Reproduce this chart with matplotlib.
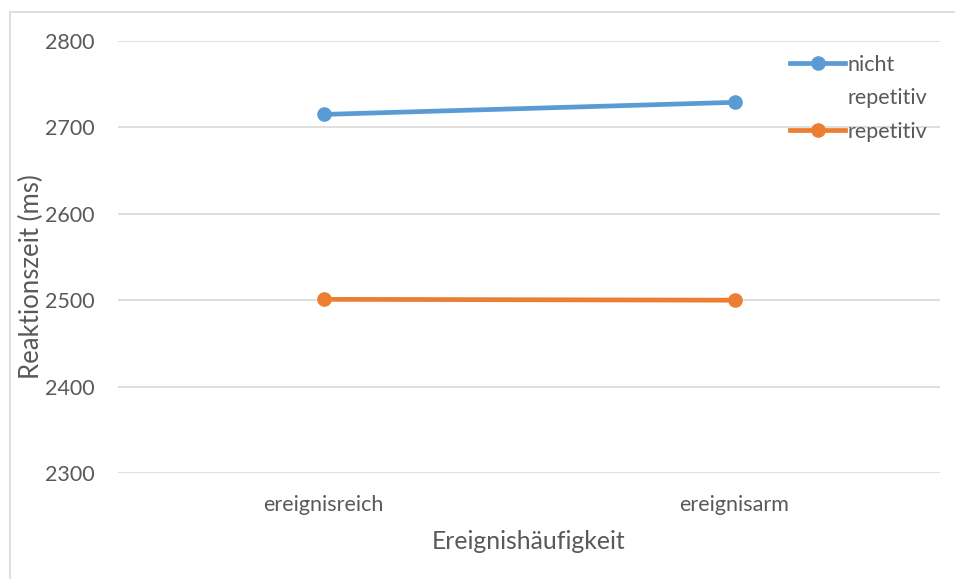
import matplotlib.pyplot as plt
from matplotlib.lines import Line2D
from matplotlib.patches import Rectangle

# Data
categories = ['ereignisreich', 'ereignisarm']
nicht_repetitiv = [2715, 2729]
repetitiv = [2501, 2500]
y_ticks = [2300, 2400, 2500, 2600, 2700, 2800]

blue = '#5B9BD5'
orange = '#ED7D31'
text_grey = '#595959'
grid_grey = '#D9D9D9'

plt.rcParams['font.family'] = ['Lato', 'DejaVu Sans']

fig = plt.figure(figsize=(9.55, 5.79), dpi=100)
ax = fig.add_axes([0.1236, 0.1831, 0.8607, 0.7461])

x = list(range(len(categories)))
ax.plot(x, nicht_repetitiv, color=blue, lw=3.4, marker='o', markersize=9.5,
        solid_capstyle='round', zorder=3)
ax.plot(x, repetitiv, color=orange, lw=3.4, marker='o', markersize=9.5,
        solid_capstyle='round', zorder=3)

ax.set_xlim(-0.5, 1.5)
ax.set_ylim(2300, 2800)
ax.set_yticks(y_ticks)
ax.set_xticks(x)
ax.set_xticklabels(categories)
ax.tick_params(axis='both', length=0, labelsize=15.5, labelcolor=text_grey)
ax.tick_params(axis='x', pad=16)
ax.tick_params(axis='y', pad=17)
ax.grid(axis='y', color=grid_grey, lw=1.2)
ax.set_axisbelow(True)
for s in ax.spines.values():
    s.set_visible(False)

ax.set_xlabel('Ereignishäufigkeit', fontsize=17.8, color=text_grey, labelpad=11)
ax.set_ylabel('Reaktionszeit (ms)', fontsize=18.5, color=text_grey)
ax.yaxis.set_label_coords(-0.0895, 0.454)

# legend: handle aligned with first text line
handles = [Line2D([], [], color=blue, lw=3.4, marker='o', markersize=9.5),
           Line2D([], [], color='none'),
           Line2D([], [], color=orange, lw=3.4, marker='o', markersize=9.5)]
labels = ['nicht', 'repetitiv', 'repetitiv']
leg = fig.legend(handles, labels, loc='upper left', bbox_to_anchor=(0.8177, 0.92),
                 frameon=False, fontsize=15.5, handlelength=2.6, handletextpad=0.1,
                 labelspacing=0.62, borderaxespad=0)
for t in leg.get_texts():
    t.set_color(text_grey)

# chart border
fig.patches.append(Rectangle((10 / 955, -0.1), 1.2, 1 - 12 / 579 + 0.1,
                             transform=fig.transFigure, fill=False,
                             edgecolor=grid_grey, lw=1.2))

fig.savefig('out.png', dpi=100)
